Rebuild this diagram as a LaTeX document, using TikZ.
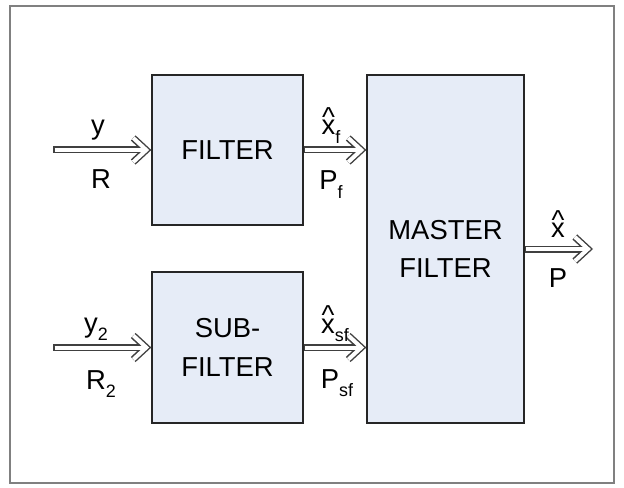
\documentclass[tikz,border=0pt]{standalone}
\usepackage{fontspec}
\setmainfont{Liberation Sans}
\usetikzlibrary{arrows.meta}
\definecolor{boxfill}{HTML}{E6ECF7}
\definecolor{boxline}{HTML}{262626}
\definecolor{arrowc}{HTML}{404040}
\definecolor{framec}{HTML}{808080}
\newcommand\hx{\leavevmode\vbox{\offinterlineskip\halign{\hfil##\hfil\cr\textasciicircum\cr\noalign{\kern-0.22em}x\cr}}}
\newcommand\sub[1]{\raisebox{-0.3em}{\fontsize{18}{20}\selectfont #1}}
\begin{document}
\begin{tikzpicture}[x=1bp,y=-1bp,
  font=\fontsize{27.5}{39}\selectfont,
  box/.style={draw=boxline, line width=1.3bp, fill=boxfill, inner sep=0pt, align=center},
  lab/.style={anchor=base, inner sep=0pt},
  arr/.style={draw=arrowc, line width=7bp, line cap=butt,
    -{Straight Barb[length=13bp,width=24bp]},
    postaction={draw=white, line width=4bp, shorten <=1.5bp, shorten >=2.1bp,
      -{Straight Barb[length=13bp,width=24bp]}}}]
\useasboundingbox (0,0) rectangle (624,488);
\draw[framec, line width=2bp] (10,6) rectangle (614,483);

\node[box, minimum width=151bp, minimum height=150bp] (filt) at (227.5,150) {FILTER};
\node[box, minimum width=151bp, minimum height=151bp] (sub) at (227.5,347.5) {SUB-\\FILTER};
\node[box, minimum width=157bp, minimum height=348bp] (master) at (445.5,249) {MASTER\\FILTER};

\coordinate (in1) at (53,150);
\coordinate (in2) at (53,347.5);
\coordinate (out) at (593,249);

\draw[arr] (in1) -- (filt.west);
\draw[arr] (in2) -- (sub.west);
\draw[arr] (filt.east) -- (master.west |- filt.east);
\draw[arr] (sub.east) -- (master.west |- sub.east);
\draw[arr] (master.east) -- (out);

\node[lab] (ly) at (98,135) {y};
\node[lab] (lR) at (101,189) {R};
\node[lab] (ly2) at (96,332) {y\sub{2}};
\node[lab] (lR2) at (101,389) {R\sub{2}};
\node[lab] (lxf) at (331,135) {\hx\sub{f}};
\node[lab] (lPf) at (331,190) {P\sub{f}};
\node[lab] (lxsf) at (335,333) {\hx\sub{sf}};
\node[lab] (lPsf) at (337,388) {P\sub{sf}};
\node[lab] (lx) at (558,238) {\hx};
\node[lab] (lP) at (558,287) {P};
\end{tikzpicture}
\end{document}
